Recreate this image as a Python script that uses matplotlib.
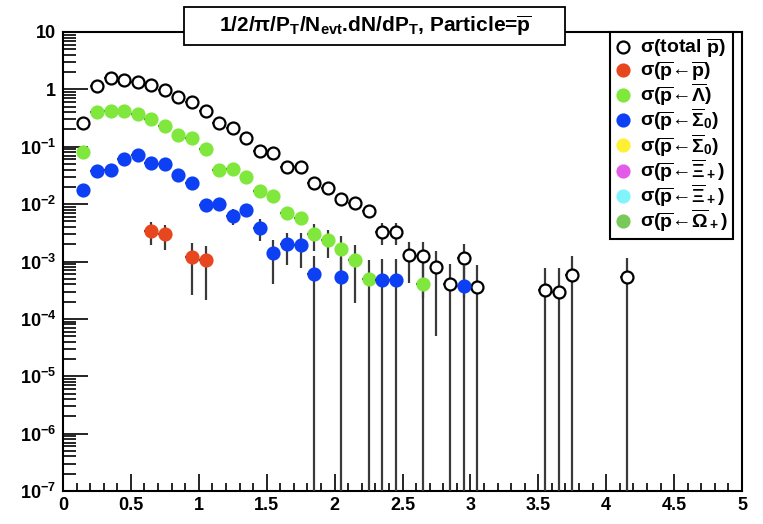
import numpy as np
import matplotlib
matplotlib.use('Agg')
import matplotlib.pyplot as plt
from matplotlib.patches import Rectangle
from matplotlib.lines import Line2D
from matplotlib.ticker import FixedLocator, MultipleLocator, FuncFormatter, NullFormatter

# ---- data (pT bin centres, yield, error) ----
pt_tot = [0.15, 0.25, 0.35, 0.45, 0.55, 0.65, 0.75, 0.85, 0.95, 1.05, 1.15, 1.25,
          1.35, 1.45, 1.55, 1.65, 1.75, 1.85, 1.95, 2.05, 2.15, 2.25, 2.35, 2.45,
          2.55, 2.65, 2.75, 2.85, 2.95, 3.05, 3.55, 3.65, 3.75, 4.15]
y_tot = [0.255, 1.13, 1.57, 1.43, 1.34, 1.17, 0.96, 0.728, 0.597, 0.428, 0.262, 0.209,
         0.141, 0.0853, 0.0766, 0.044, 0.044, 0.0233, 0.0193, 0.0125, 0.0105, 0.00766,
         0.00333, 0.00333, 0.00132, 0.00123, 0.0008, 0.0004, 0.00113, 0.00036,
         0.000316, 0.0003, 0.00058, 0.00054]
e_tot = [0.005, 0.02, 0.03, 0.03, 0.03, 0.02, 0.02, 0.015, 0.012, 0.009, 0.006, 0.005,
         0.004, 0.003, 0.003, 0.002, 0.002, 0.002, 0.002, 0.0015, 0.0015, 0.0013,
         0.0014, 0.0014, 0.0009, 0.001, 0.00075, 0.0005, 0.0009, 0.0005,
         0.00046, 0.00048, 0.00065, 0.0006]

pt_pbar = [0.65, 0.75, 0.95, 1.05]
y_pbar = [0.00342, 0.00299, 0.0012, 0.00105]
e_pbar = [0.0015, 0.0014, 0.00094, 0.00084]

pt_lam = [0.15, 0.25, 0.35, 0.45, 0.55, 0.65, 0.75, 0.85, 0.95, 1.05, 1.15, 1.25,
          1.35, 1.45, 1.55, 1.65, 1.75, 1.85, 1.95, 2.05, 2.15, 2.25, 2.65]
y_lam = [0.082, 0.401, 0.418, 0.428, 0.375, 0.299, 0.23, 0.161, 0.141, 0.091, 0.0386,
         0.0411, 0.0296, 0.0168, 0.0137, 0.00708, 0.0058, 0.00304, 0.00233, 0.00165,
         0.00105, 0.0005, 0.00041]
e_lam = [0.003, 0.01, 0.01, 0.01, 0.01, 0.008, 0.007, 0.006, 0.005, 0.004, 0.003,
         0.003, 0.002, 0.0016, 0.0015, 0.0013, 0.001, 0.0015, 0.0012, 0.0011,
         0.00086, 0.00058, 0.0005]

pt_sig = [0.15, 0.25, 0.35, 0.45, 0.55, 0.65, 0.75, 0.85, 0.95, 1.05, 1.15, 1.25,
          1.35, 1.45, 1.55, 1.65, 1.75, 1.85, 2.05, 2.35, 2.45, 2.95]
y_sig = [0.0174, 0.0371, 0.0386, 0.0611, 0.0728, 0.0521, 0.0501, 0.0316, 0.0233,
         0.0096, 0.01, 0.0062, 0.00788, 0.0039, 0.00141, 0.00201, 0.00196, 0.00061,
         0.00054, 0.00047, 0.00047, 0.000375]
e_sig = [0.001, 0.002, 0.002, 0.003, 0.003, 0.003, 0.003, 0.002, 0.002, 0.0012,
         0.0012, 0.0019, 0.0017, 0.0016, 0.001, 0.00115, 0.0012, 0.00065, 0.0006,
         0.00065, 0.00065, 0.0005]

labels = [r'$\sigma$(total $\overline{\rm p}$)',
          r'$\sigma$($\overline{\rm p}$←$\overline{\rm p}$)',
          r'$\sigma$($\overline{\rm p}$←$\overline{\Lambda}$)',
          r'$\sigma$($\overline{\rm p}$←$\overline{\Sigma}_0$)',
          r'$\sigma$($\overline{\rm p}$←$\overline{\Sigma}_0$)',
          r'$\sigma$($\overline{\rm p}$←$\overline{\Xi}_+$)',
          r'$\sigma$($\overline{\rm p}$←$\overline{\Xi}_+$)',
          r'$\sigma$($\overline{\rm p}$←$\overline{\Omega}_+$)']
colors = ['white', '#e8461e', '#80e83c', '#0d3ff5', '#fff033', '#e35ce8', '#80f4fa', '#78c85a']

plt.rcParams['font.family'] = 'Liberation Sans'
plt.rcParams['font.weight'] = 'bold'
plt.rcParams['mathtext.fontset'] = 'custom'
plt.rcParams['mathtext.rm'] = 'Liberation Sans:bold'
plt.rcParams['mathtext.bf'] = 'Liberation Sans:bold'
plt.rcParams['mathtext.it'] = 'Liberation Sans'
plt.rcParams['mathtext.sf'] = 'Liberation Sans:bold'

W, H = 763, 524
fig = plt.figure(figsize=(W / 100, H / 100), dpi=100)
ax = fig.add_axes([63 / W, 1 - 491 / H, 679 / W, 459 / H])


def draw(x, y, e, col, zo):
    x = np.array(x); y = np.array(y); e = np.array(e)
    # bars longer than the value run down to the bottom of the frame
    lo = np.where(e >= y, y * 0.999999, e)
    ax.errorbar(x, y, xerr=0.05, yerr=[lo, e], fmt='o', ms=8.6,
                mfc=col, mec='black' if col == 'white' else col, mew=1.6,
                ecolor='#3a3a3a', elinewidth=1.6, capsize=0, zorder=zo)


draw(pt_tot, y_tot, e_tot, colors[0], 3)
draw(pt_pbar, y_pbar, e_pbar, colors[1], 4)
draw(pt_lam, y_lam, e_lam, colors[2], 5)
draw(pt_sig, y_sig, e_sig, colors[3], 6)

ax.set_yscale('log')
ax.set_xlim(0, 5)
ax.set_ylim(1e-7, 10)

decades = [1e-7, 1e-6, 1e-5, 1e-4, 1e-3, 1e-2, 1e-1, 1, 10]
minors = [m * d for d in decades[:-1] for m in range(2, 10)]
ax.xaxis.set_major_locator(MultipleLocator(0.5))
ax.xaxis.set_minor_locator(MultipleLocator(0.1))
ax.xaxis.set_major_formatter(FuncFormatter(lambda v, p: '%g' % v))
ax.yaxis.set_major_locator(FixedLocator(decades))
ax.yaxis.set_minor_locator(FixedLocator(minors))
ax.yaxis.set_minor_formatter(NullFormatter())


def ylab(v, p):
    k = int(round(np.log10(v)))
    if k == 1:
        return '10'
    if k == 0:
        return '1'
    return r'10$^{%d}$' % k


ax.yaxis.set_major_formatter(FuncFormatter(ylab))
ax.tick_params(axis='both', which='both', direction='in', top=False, right=False,
               labelsize=13, width=1.2, colors='black')
ax.tick_params(axis='x', which='major', length=12, pad=4)
ax.tick_params(axis='x', which='minor', length=6)
ax.tick_params(axis='y', which='major', length=18, pad=5)
ax.tick_params(axis='y', which='minor', length=9)
for s in ax.spines.values():
    s.set_linewidth(1.5)

# legend
handles = []
for c in colors:
    handles.append(Line2D([], [], ls='none', marker='o', ms=8.6, mfc=c,
                          mec='black' if c == 'white' else c, mew=1.6))
leg = ax.legend(handles, labels, loc='upper right',
                bbox_to_anchor=(733 / W, 1 - 32 / H), bbox_transform=fig.transFigure,
                fancybox=False, edgecolor='black', framealpha=1, borderpad=0.25,
                handlelength=0.8, handletextpad=0.5, labelspacing=-0.07,
                borderaxespad=0, prop={'size': 14, 'weight': 'bold'})
leg.get_frame().set_linewidth(1.5)
leg.set_zorder(10)

# title box
fig.patches.append(Rectangle((184 / W, 1 - 45 / H), 381 / W, 38 / H,
                             transform=fig.transFigure, fc='white', ec='black',
                             lw=1.3, zorder=10))
fig.text(375 / W, 1 - 26 / H,
         r'1/2/$\pi$/P$_{\rm T}$/N$_{\rm evt}$.dN/dP$_{\rm T}$, Particle=$\overline{\rm p}$',
         ha='center', va='center', fontsize=15, fontweight='bold', zorder=11)

fig.savefig('out.png', dpi=100)
